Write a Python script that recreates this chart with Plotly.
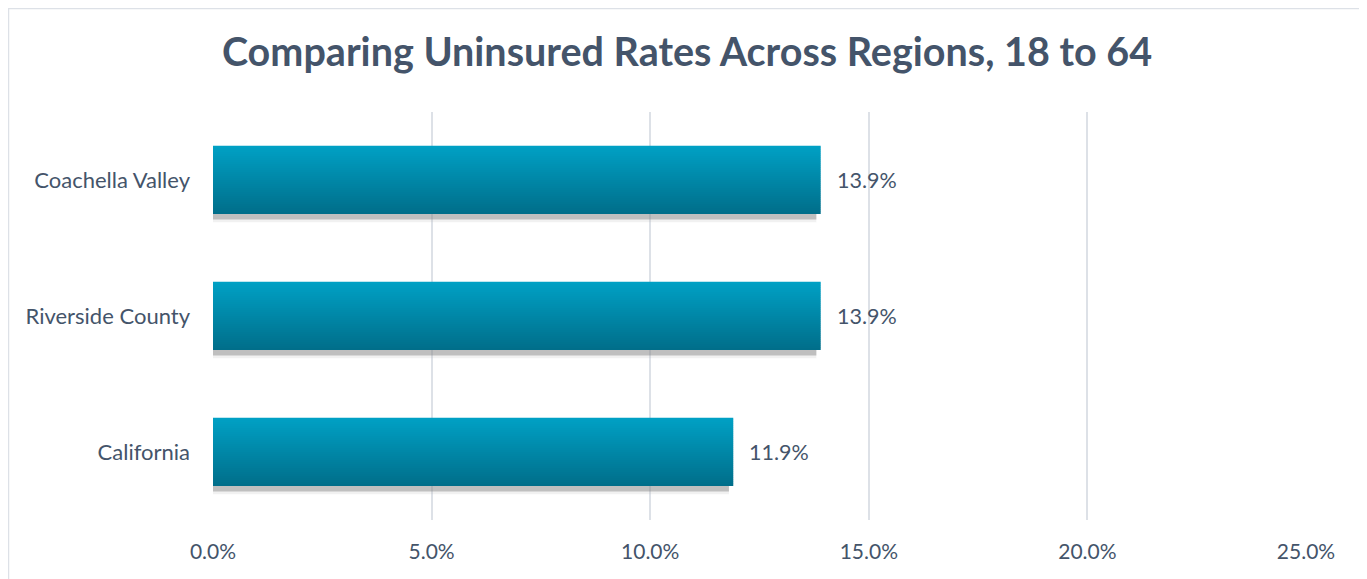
import plotly.graph_objects as go

categories = ["California", "Riverside County", "Coachella Valley"]
values = [11.9, 13.9, 13.9]
labels = ["11.9%", "13.9%", "13.9%"]
tick_vals = [0, 5, 10, 15, 20, 25]
tick_text = ["0.0%", "5.0%", "10.0%", "15.0%", "20.0%", "25.0%"]

# page body has an 8px margin; figure sized/positioned to compensate
W, H = 1359, 571
L, R, T, B = 205, 61, 104, 59
TXT = "#44546A"

fig = go.Figure()

bar_w = 0.5
# shadow
fig.add_trace(go.Bar(y=categories, x=[v - 0.1 for v in values], orientation="h",
                     width=0.045, offset=-bar_w / 2 - 0.04,
                     marker=dict(color="rgba(120,120,120,0.45)", line_width=0),
                     hoverinfo="skip", showlegend=False))
fig.add_trace(go.Bar(y=categories, x=[v - 0.1 for v in values], orientation="h",
                     width=0.06, offset=-bar_w / 2 - 0.06,
                     marker=dict(color="rgba(180,180,180,0.18)", line_width=0),
                     hoverinfo="skip", showlegend=False))

# gradient strips (bottom dark -> top light)
n = 34
top = (0, 160, 196)
bot = (0, 110, 138)
sw = bar_w / n
for i in range(n):
    t = i / (n - 1)
    c = tuple(round(bot[k] + (top[k] - bot[k]) * t) for k in range(3))
    fig.add_trace(go.Bar(y=categories, x=values, orientation="h",
                         width=sw * 1.08, offset=-bar_w / 2 + i * sw,
                         marker=dict(color="rgb(%d,%d,%d)" % c, line_width=0),
                         hoverinfo="skip", showlegend=False))

annotations = [dict(x=v, y=c, text=t, xref="x", yref="y", xanchor="left",
                    yanchor="middle", xshift=14, showarrow=False,
                    font=dict(size=21.5, color=TXT, family="Lato"))
               for c, v, t in zip(categories, values, labels)]

fig.update_layout(
    width=W, height=H, barmode="overlay",
    margin=dict(l=L, r=R, t=T, b=B),
    paper_bgcolor="white", plot_bgcolor="white",
    font=dict(family="Lato", color=TXT),
    title=dict(text="<b>Comparing Uninsured Rates Across Regions, 18 to 64</b>",
               x=(687 - 8) / W, xanchor="center", y=1 - 44 / H, yanchor="middle",
               font=dict(size=39.5, color=TXT, family="Lato")),
    xaxis=dict(range=[0, 25], tickvals=tick_vals, ticktext=tick_text,
               showgrid=True, gridcolor="#DDE1E7", gridwidth=2,
               zeroline=False, showline=False, ticks="",
               tickfont=dict(size=21, color=TXT), ticklabelstandoff=17),
    yaxis=dict(type="category", categoryorder="array", categoryarray=categories,
               range=[-0.5, 2.5], showgrid=False, zeroline=False, showline=False,
               ticks="", tickfont=dict(size=22, color=TXT), ticklabelstandoff=22),
    annotations=annotations,
    shapes=[dict(type="rect", xref="paper", yref="paper",
                 x0=(0.5 - L) / (W - L - R), x1=(W - 1.5 - L) / (W - L - R),
                 y0=-(B + 5) / (H - T - B),
                 y1=1 + (T - 0.5) / (H - T - B),
                 line=dict(color="#DDE1E7", width=1.5), fillcolor="rgba(0,0,0,0)",
                 layer="below")],
)

fig.write_html("out.html")
